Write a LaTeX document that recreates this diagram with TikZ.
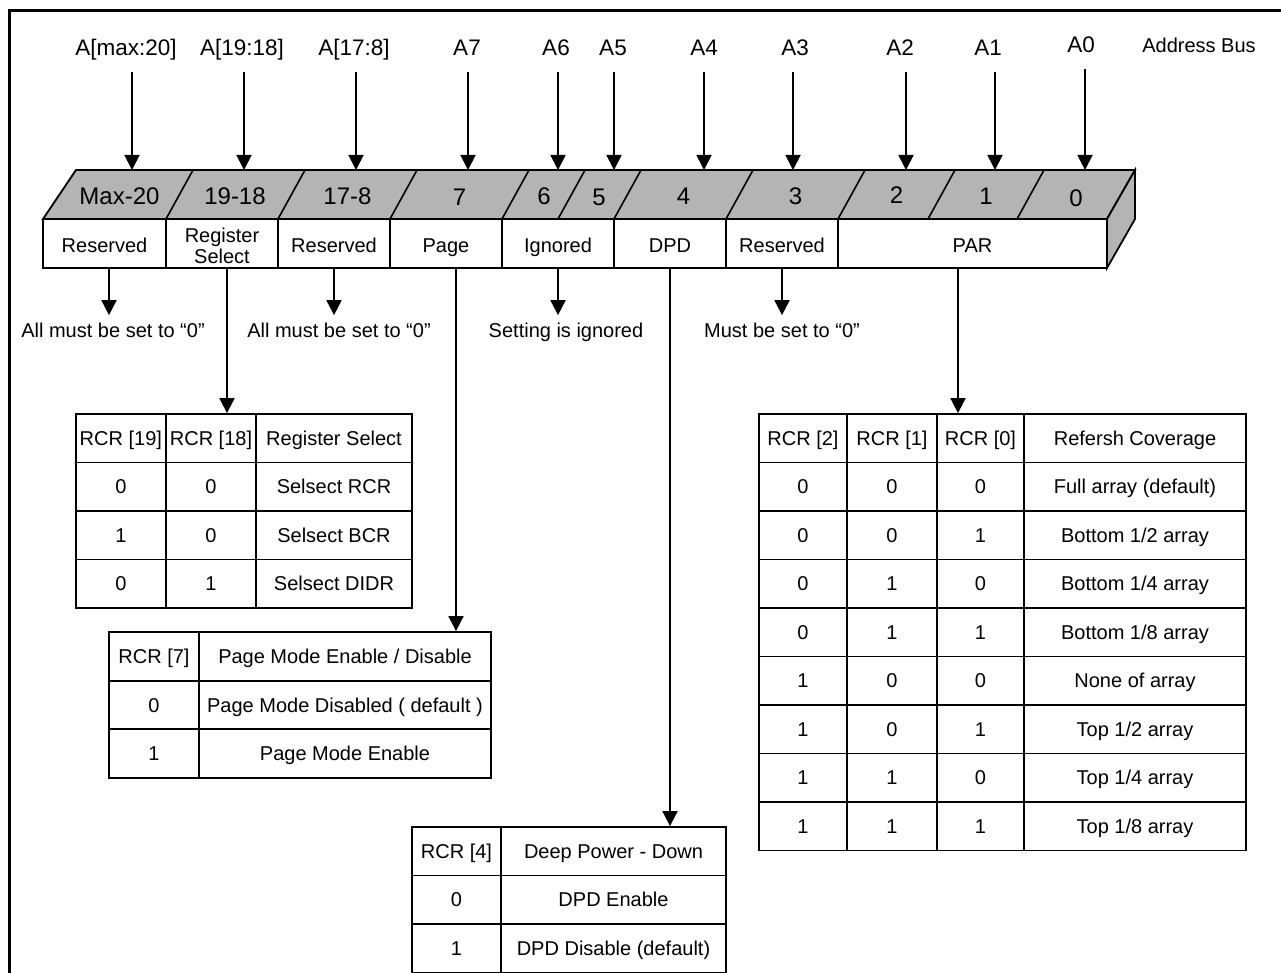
\documentclass[tikz,border=0pt]{standalone}
\usepackage{fontspec}
\setmainfont{Liberation Sans}
\usetikzlibrary{arrows.meta}
\definecolor{bandgray}{RGB}{180,180,180}
\newcommand{\tabfont}{\fontsize{20pt}{21pt}\selectfont}
\newcommand{\addrfont}{\fontsize{22.5pt}{24pt}\selectfont}
\newcommand{\bitfont}{\fontsize{24pt}{26pt}\selectfont}
\newcommand{\busfont}{\fontsize{20pt}{22pt}\selectfont}
% name, x1, x2, y1, y2, text
\newcommand{\tabcell}[6]{%
  \pgfmathsetmacro{\mycw}{#3-#2}%
  \pgfmathsetmacro{\mych}{#5-#4}%
  \node[tcell, minimum width=\mycw pt, minimum height=\mych pt] (#1) at ({(#2+#3)/2},{(#4+#5)/2}) {#6};%
}
\newcommand{\rowpar}[7]{%
  \tabcell{#1a}{759}{847}{#2}{#3}{#4}%
  \tabcell{#1b}{847}{937}{#2}{#3}{#5}%
  \tabcell{#1c}{937}{1024}{#2}{#3}{#6}%
  \tabcell{#1d}{1024}{1246}{#2}{#3}{#7}}
\newcommand{\rowrs}[6]{%
  \tabcell{#1a}{75.7}{166}{#2}{#3}{#4}%
  \tabcell{#1b}{166}{256}{#2}{#3}{#5}%
  \tabcell{#1c}{256}{412}{#2}{#3}{#6}}
\newcommand{\rowpg}[5]{%
  \tabcell{#1a}{109}{199}{#2}{#3}{#4}%
  \tabcell{#1b}{199}{491}{#2}{#3}{#5}}
\newcommand{\rowdp}[5]{%
  \tabcell{#1a}{412}{501}{#2}{#3}{#4}%
  \tabcell{#1b}{501}{726}{#2}{#3}{#5}}
\tikzset{
  arr/.style={line width=1.8pt, -{Triangle[length=15pt,width=15pt]}},
  tcell/.style={draw, line width=1.8pt, inner sep=0pt, font=\tabfont, text height=14.3pt, text depth=0pt},
  ttext/.style={inner sep=0pt, font=\tabfont, text height=14.3pt, text depth=0pt},
  note/.style={inner xsep=0pt, inner ysep=8pt, font=\tabfont, text height=14.3pt, text depth=0pt},
  addr/.style={inner xsep=0pt, inner ysep=16.5pt, font=\addrfont, text height=16.2pt, text depth=0pt},
  bus/.style={inner sep=0pt, font=\busfont, text height=14.3pt, text depth=0pt},
  bit/.style={inner sep=0pt, font=\bitfont, text height=17.2pt, text depth=0pt},
}
\begin{document}
\begin{tikzpicture}[x=1pt,y=-1pt]
\useasboundingbox (0,0) rectangle (1281,973);
\begin{scope}
  \clip (0,0) rectangle (1281,973);
  \draw[line width=2.8pt] (9.5,10.5) rectangle (1400,1100);
\end{scope}

% address bus labels
\node[addr] (aM)  at (126,47.5) {A[max:20]};
\node[addr] (aRS) at (242,47.5) {A[19:18]};
\node[addr] (aR8) at (354,47.5) {A[17:8]};
\node[addr] (a7)  at (467,47.5) {A7};
\node[addr] (a6)  at (556,47.5) {A6};
\node[addr] (a5)  at (613,47.5) {A5};
\node[addr] (a4)  at (704,47.5) {A4};
\node[addr] (a3)  at (795,47.5) {A3};
\node[addr] (a2)  at (900,47.5) {A2};
\node[addr] (a1)  at (988,47.5) {A1};
\node[addr] (a0)  at (1081,44.5) {A0};
\node[bus] (bus) at (1199,45) {Address Bus};

% register band (gray top face and side)
\coordinate (bandtop) at (0,170);
\filldraw[fill=bandgray, line width=1.8pt, line join=miter] (76,170) -- (1135,170) -- (1107,219) -- (43,219) -- cycle;
\filldraw[fill=bandgray, line width=1.8pt, line join=miter] (1107,219) -- (1135,170) -- (1135,219) -- (1107,268) -- cycle;
\foreach \x in {166,278,390,502,558,614,726,838,928,1017}
  \draw[line width=1.6pt] (\x,219) -- (\x+27,170);

% bit numbers
\node[bit] (bM)  at (119.5,196) {Max-20};
\node[bit] (bRS) at (235,196) {19-18};
\node[bit] (bR8) at (347.5,196) {17-8};
\node[bit] (b7)  at (459.5,197) {7};
\node[bit] (b6)  at (544,196) {6};
\node[bit] (b5)  at (599,197) {5};
\node[bit] (b4)  at (683.5,196) {4};
\node[bit] (b3)  at (795.5,196) {3};
\node[bit] (b2)  at (896.5,195) {2};
\node[bit] (b1)  at (986,196) {1};
\node[bit] (b0)  at (1076,198) {0};

% address arrows
\draw[arr] ([xshift=6pt]aM.south) -- ([xshift=6pt]aM.south |- bandtop);
\draw[arr] ([xshift=2pt]aRS.south) -- ([xshift=2pt]aRS.south |- bandtop);
\draw[arr] ([xshift=2pt]aR8.south) -- ([xshift=2pt]aR8.south |- bandtop);
\draw[arr] ([xshift=1pt]a7.south) -- ([xshift=1pt]a7.south |- bandtop);
\draw[arr] ([xshift=2pt]a6.south) -- ([xshift=2pt]a6.south |- bandtop);
\draw[arr] ([xshift=1pt]a5.south) -- ([xshift=1pt]a5.south |- bandtop);
\draw[arr] (a4.south) -- (a4.south |- bandtop);
\draw[arr] ([xshift=-2pt]a3.south) -- ([xshift=-2pt]a3.south |- bandtop);
\draw[arr] ([xshift=6pt]a2.south) -- ([xshift=6pt]a2.south |- bandtop);
\draw[arr] ([xshift=7pt]a1.south) -- ([xshift=7pt]a1.south |- bandtop);
\draw[arr] ([xshift=4pt]a0.south) -- ([xshift=4pt]a0.south |- bandtop);

% front row cells
\tabcell{fc0}{43}{166}{219}{268}{}
\tabcell{fc1}{166}{278}{219}{268}{}
\tabcell{fc2}{278}{390}{219}{268}{}
\tabcell{fc3}{390}{502}{219}{268}{}
\tabcell{fc4}{502}{614}{219}{268}{}
\tabcell{fc5}{614}{726}{219}{268}{}
\tabcell{fc6}{726}{838}{219}{268}{}
\tabcell{fc7}{838}{1107}{219}{268}{}
\node[ttext] (fl0) at ([yshift=-2pt]fc0.center) {Reserved};
\node[inner sep=0pt, font=\tabfont, align=center] (fl1) at (222,245.5) {Register\\Select};
\node[ttext] (fl2) at ([yshift=-2pt]fc2.center) {Reserved};
\node[ttext] (fl3) at ([yshift=-2pt]fc3.center) {Page};
\node[ttext] (fl4) at ([yshift=-2pt]fc4.center) {Ignored};
\node[ttext] (fl5) at ([yshift=-2pt]fc5.center) {DPD};
\node[ttext] (fl6) at ([yshift=-2pt]fc6.center) {Reserved};
\node[ttext] (fl7) at ([yshift=-2pt]fc7.center) {PAR};

% notes
\node[note] (n1) at (113,330.5) {All must be set to “0”};
\node[note] (n2) at (339,330.5) {All must be set to “0”};
\node[note] (n3) at (566,330.5) {Setting is ignored};
\node[note] (n4) at (782,330.5) {Must be set to “0”};

% Register select table
\rowrs{rs0}{414}{462.5}{RCR [19]}{RCR [18]}{Register Select}
\rowrs{rs1}{462.5}{511}{0}{0}{Selsect RCR}
\rowrs{rs2}{511}{559.5}{1}{0}{Selsect BCR}
\rowrs{rs3}{559.5}{608}{0}{1}{Selsect DIDR}

% Page table
\rowpg{pg0}{632}{680.6}{RCR [7]}{Page Mode Enable / Disable}
\rowpg{pg1}{680.6}{729.2}{0}{Page Mode Disabled ( default )}
\rowpg{pg2}{729.2}{777.8}{1}{Page Mode Enable}

% DPD table
\rowdp{dp0}{827}{875.5}{RCR [4]}{Deep Power - Down}
\rowdp{dp1}{875.5}{924}{0}{DPD Enable}
\rowdp{dp2}{924}{972.5}{1}{DPD Disable (default)}

% PAR table
\rowpar{pa0}{414}{462.5}{RCR [2]}{RCR [1]}{RCR [0]}{Refersh Coverage}
\rowpar{pa1}{462.5}{511}{0}{0}{0}{Full array (default)}
\rowpar{pa2}{511}{559.5}{0}{0}{1}{Bottom 1/2 array}
\rowpar{pa3}{559.5}{608}{0}{1}{0}{Bottom 1/4 array}
\rowpar{pa4}{608}{656.5}{0}{1}{1}{Bottom 1/8 array}
\rowpar{pa5}{656.5}{705}{1}{0}{0}{None of array}
\rowpar{pa6}{705}{753.5}{1}{0}{1}{Top 1/2 array}
\rowpar{pa7}{753.5}{802}{1}{1}{0}{Top 1/4 array}
\rowpar{pa8}{802}{850.5}{1}{1}{1}{Top 1/8 array}

% connectors below the register
\draw[arr] ([xshift=4.5pt]fc0.south) -- ([xshift=4.5pt]fc0.south |- n1.north);
\draw[arr] (fc2.south) -- (fc2.south |- n2.north);
\draw[arr] (fc4.south) -- (fc4.south |- n3.north);
\draw[arr] (fc6.south) -- (fc6.south |- n4.north);
\draw[arr] ([xshift=5pt]fc1.south) -- ([xshift=5pt]fc1.south |- rs0b.north);
\draw[arr] ([xshift=10pt]fc3.south) -- ([xshift=10pt]fc3.south |- pg0b.north);
\draw[arr] (fc5.south) -- (fc5.south |- dp0b.north);
\draw[arr] ([xshift=-14.5pt]fc7.south) -- ([xshift=-14.5pt]fc7.south |- pa0c.north);
\end{tikzpicture}
\end{document}
